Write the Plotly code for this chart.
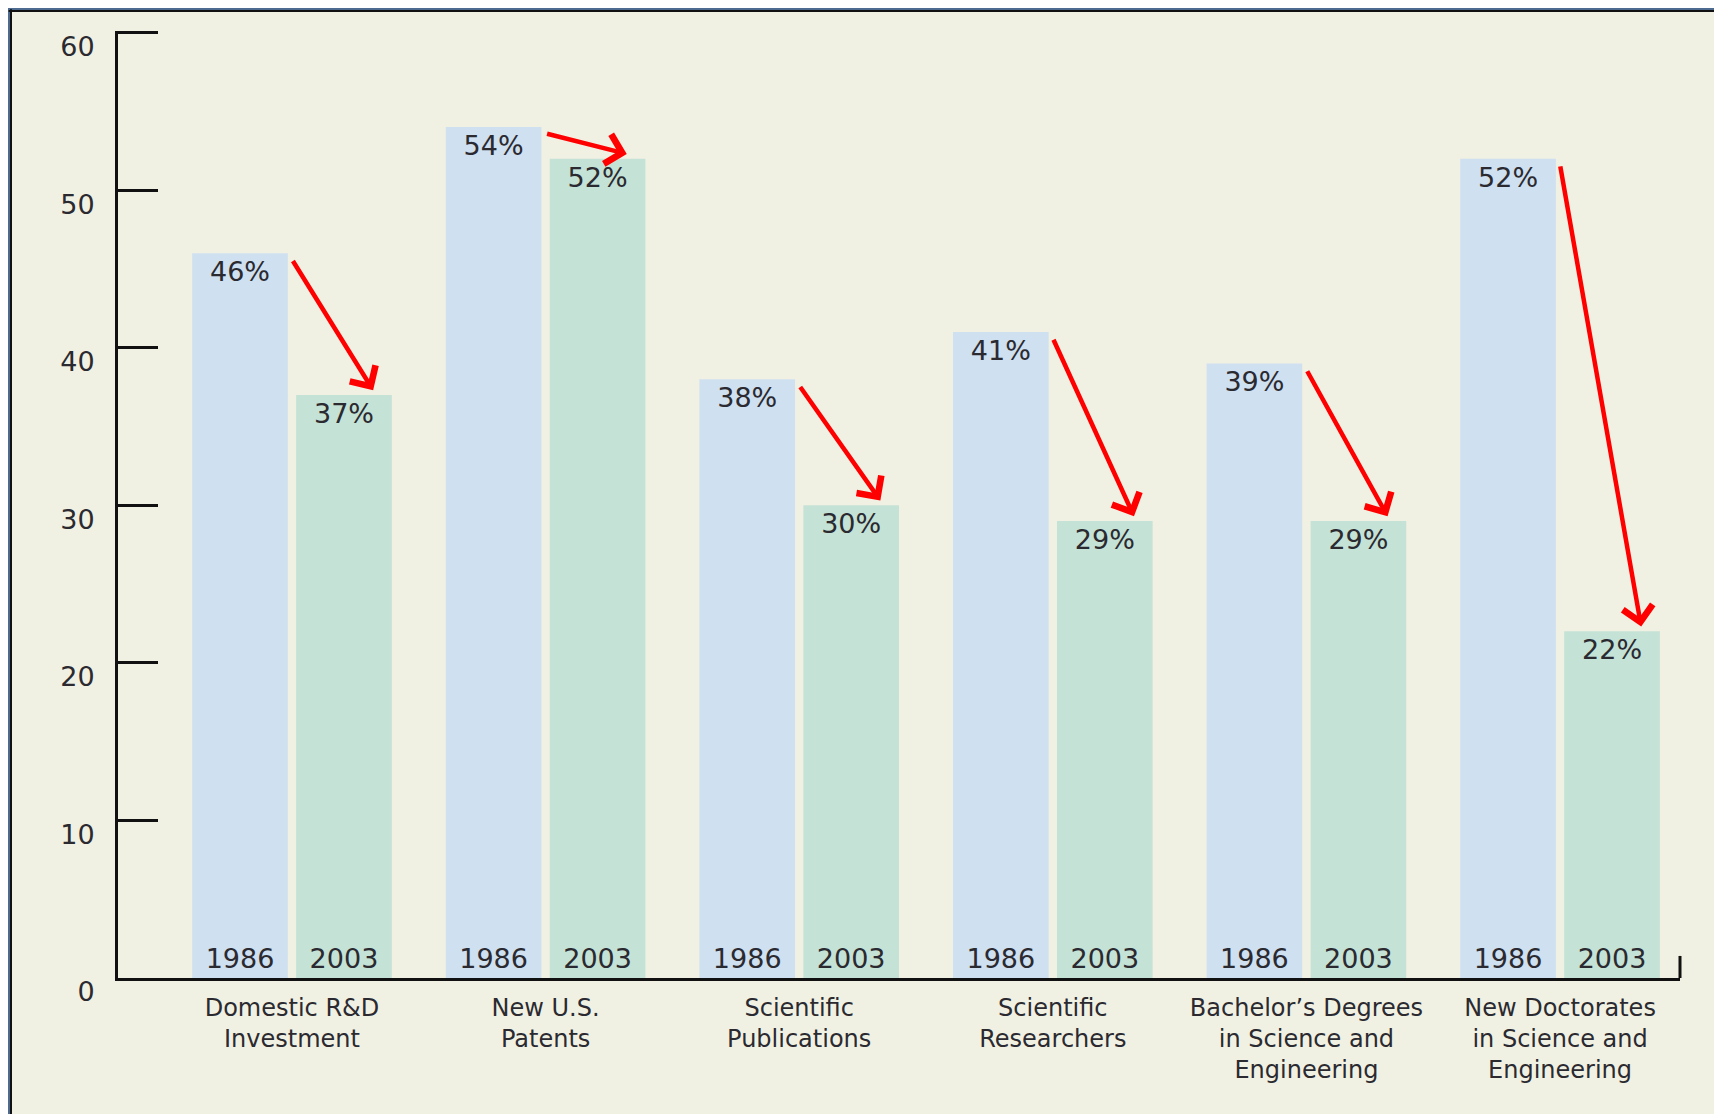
import plotly.graph_objects as go

categories = [
    "Domestic R&D<br>Investment",
    "New U.S.<br>Patents",
    "Scientific<br>Publications",
    "Scientific<br>Researchers",
    "Bachelor\u2019s Degrees<br>in Science and<br>Engineering",
    "New Doctorates<br>in Science and<br>Engineering",
]
share_1986 = [46, 54, 38, 41, 39, 52]
share_2003 = [37, 52, 30, 29, 29, 22]
years = ["1986", "2003"]
y_ticks = [0, 10, 20, 30, 40, 50, 60]

FONT = "DejaVu Sans, Verdana, sans-serif"
TEXT = "#2a2a30"
BLUE = "#cfe0f0"
GREEN = "#c5e2d6"
CREAM = "#f1f1e3"
FRAME = "#4d6a90"

xpos = list(range(len(categories)))

fig = go.Figure()

# coloured bars with the percentage at the top
for year, vals, color in [(years[0], share_1986, BLUE), (years[1], share_2003, GREEN)]:
    fig.add_bar(
        x=xpos,
        y=vals,
        offsetgroup=year,
        marker=dict(color=color, line_width=0),
        text=[f"{v}%" for v in vals],
        textposition="inside",
        insidetextanchor="end",
        textangle=0,
        textfont=dict(size=27, color=TEXT, family=FONT),
        showlegend=False,
        hoverinfo="skip",
    )

# transparent copies carrying the year at the bottom
for year, vals in [(years[0], share_1986), (years[1], share_2003)]:
    fig.add_bar(
        x=xpos,
        y=vals,
        offsetgroup=year,
        marker=dict(color="rgba(0,0,0,0)", line_width=0),
        text=[year] * len(vals),
        textposition="inside",
        insidetextanchor="start",
        textangle=0,
        textfont=dict(size=28, color=TEXT, family=FONT),
        showlegend=False,
        hoverinfo="skip",
    )

# red "decline" arrows from 1986 top to 2003 top
for i, (a, b) in enumerate(zip(share_1986, share_2003)):
    fig.add_annotation(
        x=i + 0.32,
        y=b + 0.3,
        ax=i,
        ay=a - 0.4,
        xref="x",
        yref="y",
        axref="x",
        ayref="y",
        text="",
        showarrow=True,
        arrowhead=4,
        arrowsize=1.3,
        arrowwidth=4.5,
        arrowcolor="#ff0000",
        standoff=0,
    )

# little upturn at the right end of the baseline
fig.add_shape(
    type="line", xref="x domain", yref="y",
    x0=1, x1=1, y0=0, y1=1.4,
    line=dict(color="#111", width=3),
)

# blue frame on the top and left edges (page body adds 8px of its own)
fig.add_shape(
    type="rect", xref="paper", yref="paper",
    xsizemode="pixel", ysizemode="scaled", xanchor=0,
    x0=-120, x1=-108, y0=-0.2, y1=1.1,
    fillcolor=FRAME, line_width=0, layer="below",
)
fig.add_shape(
    type="rect", xref="paper", yref="paper",
    xsizemode="scaled", ysizemode="pixel", yanchor=1,
    x0=-0.1, x1=1.1, y0=21, y1=40,
    fillcolor=FRAME, line_width=0, layer="below",
)
fig.add_shape(
    type="line", xref="paper", yref="paper",
    xsizemode="pixel", ysizemode="scaled", xanchor=0,
    x0=-107, x1=-107, y0=-0.2, y1=1.023,
    line=dict(color="#111", width=2),
)
fig.add_shape(
    type="line", xref="paper", yref="paper",
    xsizemode="scaled", ysizemode="pixel", yanchor=1,
    x0=-0.07, x1=1.1, y0=20, y1=20,
    line=dict(color="#111", width=2),
)

fig.update_layout(
    width=1714,
    height=1106,
    margin=dict(l=110, r=42, t=23, b=136),
    paper_bgcolor=CREAM,
    plot_bgcolor=CREAM,
    barmode="group",
    bargap=0.18,
    bargroupgap=0.08,
    font=dict(family=FONT, color=TEXT),
    uniformtext=dict(minsize=25, mode="show"),
)
fig.update_xaxes(
    range=[-0.686, 5.473],
    tickvals=xpos,
    ticktext=categories,
    tickfont=dict(size=24, color=TEXT, family=FONT),
    showgrid=False,
    zeroline=False,
    showline=True,
    linewidth=3,
    linecolor="#111",
    ticks="",
    ticklabelstandoff=6,
    automargin=False,
)
fig.update_yaxes(
    range=[0, 60.1],
    tickvals=y_ticks,
    tickfont=dict(size=27, color=TEXT, family=FONT),
    showgrid=False,
    zeroline=False,
    showline=True,
    linewidth=3,
    linecolor="#111",
    ticks="inside",
    ticklen=40,
    tickwidth=3,
    tickcolor="#111",
    ticklabelstandoff=15,
    ticklabelshift=14,
    automargin=False,
)

fig.write_html("out.html")
